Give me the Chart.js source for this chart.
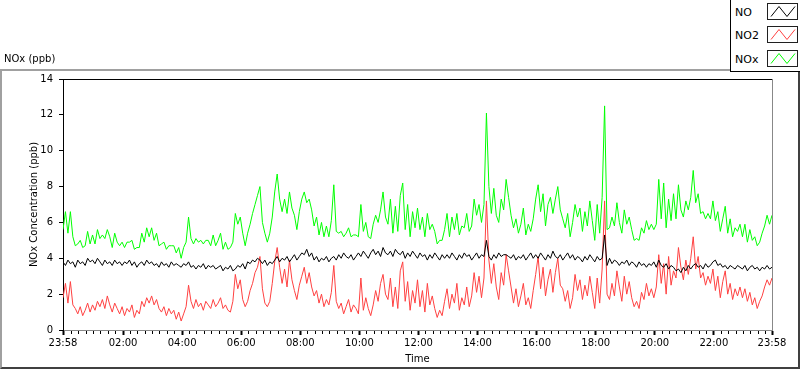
<!DOCTYPE html>
<html>
<head>
<meta charset="utf-8">
<script src="https://cdn.jsdelivr.net/npm/chart.js@4.4.1/dist/chart.umd.min.js"></script>
<style>
  html, body { margin: 0; padding: 0; background: #fff; }
  #wrap { position: relative; width: 800px; height: 369px; overflow: hidden; font-family: "DejaVu Sans", sans-serif; }
  #frame { position: absolute; left: 0; top: 69px; width: 796px; height: 296px;
    border-top: 2px solid #a0a0a0; border-left: 2px solid #a0a0a0;
    border-right: 2px solid #404040; border-bottom: 2px solid #404040; }
  #noxChart { position: absolute; left: 0; top: 0; }
  #legend { position: absolute; left: 730px; top: 0; width: 70px; height: 71px; background: #fff;
    border-left: 1px solid #000; border-bottom: 1px solid #000; }
  .item { position: absolute; left: 4px; width: 66px; height: 17px; }
  .item span { position: absolute; left: 0; top: 0; line-height: 17px; font-size: 11px; color: #000; }
  .item canvas { position: absolute; left: 32px; top: -1px; }
</style>
</head>
<body>
<div id="wrap">
  <div id="frame"></div>
  <canvas id="noxChart" width="800" height="369"></canvas>
  <div id="legend"></div>
</div>
<script>
// one sample every 5 minutes, first sample at 23:58
const STEP_MIN = 5;

const TICK_MINUTES = [0, 122, 242, 362, 482, 602, 722, 842, 962, 1082, 1202, 1322, 1440];
const TICK_LABELS = ["23:58", "02:00", "04:00", "06:00", "08:00", "10:00", "12:00",
  "14:00", "16:00", "18:00", "20:00", "22:00", "23:58"];
const MINOR_START = 2;   // 00:00
const MINOR_STEP = 15;

// NO (ppb)
const NO = [
  3.8, 3.6, 3.9, 3.7, 3.8, 3.5, 3.9, 3.7, 3.8, 3.6, 4.0, 3.8,
  3.9, 3.7, 4.0, 3.8, 3.6, 3.9, 3.7, 3.8, 3.6, 3.9, 3.7, 3.8,
  3.6, 3.8, 3.7, 3.9, 3.6, 3.8, 3.5, 3.7, 3.8, 3.6, 3.9, 3.7,
  3.8, 3.6, 3.7, 3.5, 3.8, 3.6, 3.7, 3.5, 3.8, 3.6, 3.7, 3.6,
  3.5, 3.7, 3.6, 3.8, 3.5, 3.6, 3.4, 3.6, 3.5, 3.7, 3.4, 3.6,
  3.5, 3.6, 3.4, 3.5, 3.6, 3.3, 3.5, 3.4, 3.6, 3.3, 3.4, 3.6,
  3.5, 3.7, 3.4, 3.8, 3.7, 3.9, 3.8, 4.0, 3.9, 3.7, 3.9, 3.6,
  3.8, 3.7, 3.9, 4.1, 3.8, 4.0, 3.9, 4.1, 3.8, 4.0, 4.2, 3.9,
  4.1, 4.3, 4.2, 4.5, 4.1, 4.3, 3.9, 4.1, 3.8, 4.0, 3.9, 4.1,
  3.8, 4.0, 4.1, 3.9, 4.2, 4.0, 4.3, 4.1, 4.0, 4.2, 3.9, 4.1,
  4.3, 4.1, 4.4, 4.2, 4.0, 4.3, 4.5, 4.2, 4.4, 4.1, 4.6, 4.3,
  4.2, 4.4, 4.1, 4.5, 4.3, 4.2, 4.4, 4.0, 4.3, 4.1, 4.4, 4.2,
  4.0, 4.3, 4.1, 4.2, 3.9, 4.2, 4.0, 4.3, 4.1, 3.9, 4.2, 4.0,
  4.2, 4.0, 4.3, 4.1, 3.9, 4.2, 4.0, 4.3, 4.1, 4.2, 3.9, 4.1,
  4.3, 4.0, 4.2, 4.1, 5.0, 4.1, 3.9, 4.2, 4.0, 4.3, 4.1, 4.2,
  4.2, 4.1, 4.0, 4.2, 3.9, 4.1, 4.0, 4.2, 3.9, 4.1, 4.3, 4.0,
  4.2, 4.0, 4.3, 4.1, 3.9, 4.2, 4.0, 4.4, 4.1, 4.0, 4.2, 3.9,
  4.1, 4.3, 4.0, 4.2, 3.9, 4.1, 4.0, 3.8, 4.1, 3.9, 4.2, 4.0,
  3.8, 4.1, 3.9, 4.0, 5.3, 3.6, 4.0, 3.7, 3.9, 3.8, 3.6, 3.8,
  3.7, 3.9, 3.6, 3.8, 3.7, 3.5, 3.8, 3.6, 3.7, 3.5, 3.7, 3.6,
  3.8, 3.5, 3.9, 3.6, 3.5, 3.7, 3.4, 3.6, 3.5, 3.3, 3.4, 3.2,
  3.5, 3.3, 3.6, 3.4, 3.6, 3.7, 3.5, 3.6, 3.4, 3.7, 3.5, 3.6,
  3.8, 3.9, 3.6, 3.7, 3.5, 3.6, 3.4, 3.6, 3.5, 3.4, 3.6, 3.5,
  3.4, 3.6, 3.3, 3.5, 3.6, 3.4, 3.5, 3.3, 3.5, 3.4, 3.6, 3.4, 3.5
];

// NO2 (ppb)
const NO2 = [
  1.8, 2.6, 1.5, 2.7, 1.4, 1.2, 0.9, 1.3, 0.8, 1.1, 1.5, 1.0,
  1.4, 1.1, 1.6, 1.3, 1.7, 1.2, 1.9, 1.4, 1.0, 1.5, 1.2, 0.9,
  1.3, 0.8, 1.2, 1.0, 1.4, 0.7, 1.1, 0.9, 1.6, 1.3, 1.8, 1.5,
  1.9, 1.4, 1.7, 1.2, 1.0, 1.3, 0.8, 1.2, 0.9, 1.1, 0.6, 1.0,
  0.5, 0.9, 1.3, 2.5, 1.6, 1.2, 1.7, 1.3, 1.5, 1.1, 1.6, 1.4,
  1.2, 1.7, 1.3, 1.5, 1.8, 1.2, 1.4, 1.1, 1.0, 1.6, 3.1, 2.3,
  2.8, 1.7, 1.3, 1.6, 2.2, 2.6, 3.2, 3.5, 4.1, 2.3, 1.5, 1.3,
  1.6, 2.6, 3.8, 4.6, 3.5, 2.6, 3.4, 2.4, 3.9, 2.8, 2.2, 1.7,
  2.5, 3.0, 3.5, 2.6, 3.2, 2.4, 1.9, 2.2, 1.5, 2.0, 1.3, 1.7,
  1.4, 2.1, 3.6, 1.6, 1.2, 1.5, 0.9, 1.3, 1.7, 1.0, 1.4, 1.2,
  0.9, 2.9, 1.1, 1.8, 1.2, 0.8, 1.4, 2.2, 1.6, 2.6, 3.1, 2.0,
  1.7, 2.9, 1.3, 2.4, 1.2, 3.3, 3.8, 1.6, 2.7, 1.1, 2.2, 1.5,
  2.8, 1.3, 2.2, 1.0, 2.6, 1.4, 1.9, 1.2, 0.7, 1.1, 0.8, 1.6,
  2.3, 1.2, 2.0, 1.5, 2.6, 1.1, 1.8, 1.4, 2.4, 1.3, 1.9, 3.2,
  2.1, 3.0, 1.8, 2.9, 7.2, 3.9, 2.6, 3.7, 2.4, 1.7, 3.2, 2.5,
  4.2, 3.3, 2.4, 1.5, 2.3, 1.3, 1.9, 2.6, 1.4, 1.8, 1.2, 2.2,
  3.1, 4.1, 2.3, 3.5, 1.9, 2.8, 3.4, 2.1, 3.2, 4.0, 2.5, 2.3,
  1.6, 2.2, 1.2, 1.8, 3.1, 2.2, 2.8, 1.7, 2.5, 1.9, 3.0, 2.1,
  1.2, 2.9, 1.5, 3.4, 7.2, 2.0, 1.7, 2.6, 1.9, 3.3, 2.4, 1.6,
  3.0, 2.0, 2.7, 1.8, 1.3, 1.6, 1.2, 2.1, 1.7, 2.6, 1.9, 2.3,
  1.8, 2.4, 4.2, 2.6, 3.7, 2.0, 4.1, 2.5, 3.3, 2.9, 4.6, 3.5,
  2.8, 3.9, 3.1, 4.0, 5.2, 3.4, 4.1, 2.9, 3.2, 2.5, 3.0, 2.6,
  3.4, 2.2, 3.0, 1.8, 2.7, 3.3, 2.0, 2.6, 1.7, 2.3, 1.9, 2.4,
  1.8, 2.3, 1.6, 2.1, 1.4, 1.8, 1.2, 1.6, 1.9, 2.4, 2.8, 2.5, 2.9
];

// NOx (ppb)
const NOX = [
  5.6, 6.6, 5.4, 6.6, 5.2, 4.7, 4.8, 5.0, 4.6, 4.7, 5.5, 4.8,
  5.3, 4.8, 5.6, 5.1, 5.3, 5.1, 5.6, 5.2, 4.6, 5.4, 4.9, 4.7,
  4.9, 4.6, 4.9, 4.9, 5.0, 4.5, 4.6, 4.6, 5.4, 4.9, 5.7, 5.2,
  5.7, 5.0, 5.4, 4.7, 4.8, 4.9, 4.5, 4.7, 4.7, 4.7, 4.3, 4.6,
  4.0, 4.6, 4.9, 6.3, 5.1, 4.8, 5.1, 4.9, 5.0, 4.8, 5.0, 5.0,
  4.7, 5.3, 4.7, 5.0, 5.4, 4.5, 4.9, 4.5, 4.6, 4.9, 6.5, 5.9,
  6.3, 5.4, 4.7, 5.4, 5.9, 6.5, 7.0, 7.5, 8.0, 6.0, 5.4, 4.9,
  5.4, 6.3, 7.7, 8.7, 7.3, 6.6, 7.3, 6.5, 7.7, 6.8, 6.4, 5.6,
  6.6, 7.3, 7.7, 7.1, 7.3, 6.7, 5.8, 6.3, 5.3, 6.0, 5.2, 5.8,
  5.2, 6.1, 8.1, 5.5, 5.4, 5.5, 5.2, 5.4, 5.7, 5.2, 5.3, 5.3,
  5.2, 7.0, 5.5, 6.0, 5.2, 5.1, 5.9, 6.4, 6.0, 6.7, 7.7, 6.3,
  5.9, 7.3, 5.4, 6.9, 5.5, 7.5, 8.2, 5.6, 7.0, 5.2, 6.6, 5.7,
  6.8, 5.6, 6.3, 5.2, 6.5, 5.6, 5.9, 5.5, 4.8, 5.0, 5.0, 5.6,
  6.5, 5.2, 6.3, 5.6, 6.5, 5.3, 5.8, 5.7, 6.5, 5.5, 5.8, 7.3,
  6.4, 7.0, 6.0, 7.0, 12.1, 8.0, 6.5, 7.9, 6.4, 6.0, 7.3, 6.7,
  8.4, 7.4, 6.4, 5.7, 6.2, 5.4, 5.9, 6.8, 5.3, 5.9, 5.5, 6.2,
  7.3, 8.1, 6.6, 7.6, 5.8, 7.0, 7.4, 6.5, 7.3, 8.0, 6.7, 6.2,
  5.7, 6.5, 5.2, 6.0, 7.0, 6.3, 6.8, 5.5, 6.6, 5.8, 7.2, 6.1,
  5.0, 7.0, 5.4, 7.4, 12.5, 5.6, 5.7, 6.3, 5.8, 7.1, 6.0, 5.4,
  6.7, 5.9, 6.3, 5.6, 5.0, 5.1, 5.0, 5.7, 5.4, 6.1, 5.6, 5.9,
  5.6, 5.9, 8.4, 6.2, 8.2, 5.7, 7.3, 6.1, 7.6, 6.2, 8.1, 6.7,
  6.3, 7.2, 6.7, 7.4, 8.9, 7.1, 7.6, 6.5, 6.6, 6.2, 6.5, 6.2,
  7.2, 6.1, 6.6, 5.5, 6.2, 6.9, 5.4, 6.2, 5.2, 5.7, 5.5, 5.9,
  5.2, 5.9, 4.9, 5.6, 5.0, 5.2, 4.7, 4.9, 5.4, 5.8, 6.4, 5.9, 6.4
];

const FONT = "'DejaVu Sans', sans-serif";

const toPoints = (values) => values.map((v, i) => ({ x: i * STEP_MIN, y: v }));

const allTicks = TICK_MINUTES.slice();
for (let m = MINOR_START; m < 1440; m += MINOR_STEP) {
  if (!TICK_MINUTES.includes(m)) allTicks.push(m);
}
allTicks.sort((a, b) => a - b);

const isMajor = (ctx) => ctx.tick && TICK_MINUTES.includes(ctx.tick.value);

// top (black) and right (grey) edges of the plot area
const plotFrame = {
  id: "plotFrame",
  afterDraw(chart) {
    const { ctx, chartArea } = chart;
    const { left, top, right, bottom } = chartArea;
    ctx.save();
    ctx.lineWidth = 1;
    ctx.strokeStyle = "#000000";
    ctx.beginPath();
    ctx.moveTo(left, top + 0.5);
    ctx.lineTo(right + 1, top + 0.5);
    ctx.stroke();
    ctx.strokeStyle = "#888888";
    ctx.beginPath();
    ctx.moveTo(right + 0.5, top);
    ctx.lineTo(right + 0.5, bottom + 1);
    ctx.stroke();
    ctx.restore();
  },
};

const chart = new Chart(document.getElementById("noxChart"), {
  type: "line",
  data: {
    datasets: [
      { label: "NO", data: toPoints(NO), borderColor: "#000000" },
      { label: "NO2", data: toPoints(NO2), borderColor: "#ff4040" },
      { label: "NOx", data: toPoints(NOX), borderColor: "#00ff00" },
    ],
  },
  options: {
    responsive: false,
    animation: false,
    devicePixelRatio: 1,
    layout: { padding: { left: 4, right: 28, top: 0, bottom: 0 } },
    elements: {
      line: { borderWidth: 1, tension: 0, fill: false },
      point: { radius: 0 },
    },
    plugins: {
      legend: { display: false },
      tooltip: { enabled: false },
      title: {
        display: true,
        text: "NOx (ppb)",
        align: "start",
        color: "#000000",
        font: { family: FONT, size: 10, weight: "normal" },
        padding: { top: 53, bottom: 14 },
      },
    },
    scales: {
      x: {
        type: "linear",
        min: 0,
        max: 1440,
        afterBuildTicks: (scale) => {
          scale.ticks = allTicks.map((v) => ({ value: v }));
        },
        afterFit: (scale) => {
          scale.height = 39;
        },
        ticks: {
          autoSkip: false,
          maxRotation: 0,
          padding: 2,
          color: "#000000",
          font: { family: FONT, size: 10 },
          callback: (value) => {
            const k = TICK_MINUTES.indexOf(value);
            return k >= 0 ? TICK_LABELS[k] : "";
          },
        },
        grid: {
          drawOnChartArea: false,
          drawTicks: true,
          tickLength: 5,
          tickColor: "#000000",
          tickWidth: (ctx) => (isMajor(ctx) ? 2 : 1),
          tickBorderDash: (ctx) => (isMajor(ctx) ? [] : [3, 10]),
        },
        border: { color: "#888888", width: 1 },
        title: {
          display: true,
          text: "Time",
          color: "#000000",
          font: { family: FONT, size: 10 },
          padding: { top: 0, bottom: 4 },
        },
      },
      y: {
        min: 0,
        max: 14,
        afterFit: (scale) => {
          scale.width = 59;
        },
        ticks: {
          stepSize: 2,
          padding: 6,
          color: "#000000",
          font: { family: FONT, size: 10 },
        },
        grid: {
          drawOnChartArea: false,
          drawTicks: true,
          tickLength: 4,
          tickColor: "#000000",
        },
        border: { color: "#000000", width: 1 },
        title: {
          display: true,
          text: "NOx Concentration (ppb)",
          color: "#000000",
          font: { family: FONT, size: 10 },
          padding: { top: 24, bottom: 0 },
        },
      },
    },
  },
  plugins: [plotFrame],
});

// legend box in the top right corner, built from the chart's datasets
const legendEl = document.getElementById("legend");
const LEGEND_TOPS = [4, 27, 51];
chart.data.datasets.forEach((ds, i) => {
  const item = document.createElement("div");
  item.className = "item";
  item.style.top = LEGEND_TOPS[i] + "px";
  const label = document.createElement("span");
  label.textContent = ds.label;
  const sw = document.createElement("canvas");
  sw.width = 31;
  sw.height = 17;
  const c = sw.getContext("2d");
  c.fillStyle = "#ffffff";
  c.fillRect(0, 0, 31, 17);
  c.strokeStyle = "#202020";
  c.lineWidth = 1;
  c.strokeRect(0.5, 0.5, 30, 16);
  c.strokeStyle = ds.borderColor;
  c.beginPath();
  c.moveTo(4, 13.5);
  c.lineTo(12, 3.5);
  c.lineTo(20, 13.5);
  c.lineTo(28, 3.5);
  c.stroke();
  item.appendChild(label);
  item.appendChild(sw);
  legendEl.appendChild(item);
});
</script>
</body>
</html>
